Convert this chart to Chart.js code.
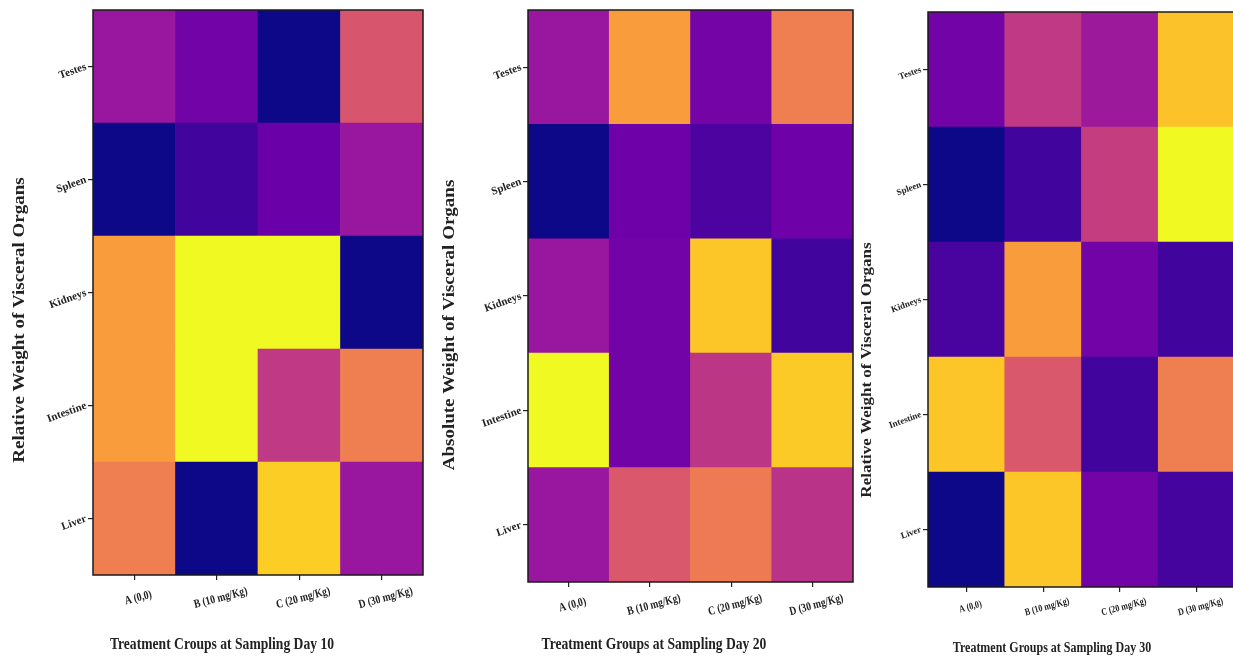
<!DOCTYPE html>
<html lang="en">
<head>
<meta charset="UTF-8">
<title>Weight of visceral organs - heatmaps</title>
<style>
  body { margin: 0; background: #fff; overflow: hidden; }
  #wrap { position: relative; width: 1233px; height: 663px; overflow: hidden; }
  #wrap canvas { position: absolute; top: 0; }
</style>
<script src="https://cdn.jsdelivr.net/npm/chart.js"></script>
</head>
<body>
<div id="wrap">
  <canvas id="day10" width="428" height="663" style="left:0px"></canvas>
  <canvas id="day20" width="425" height="663" style="left:430px"></canvas>
  <canvas id="day30" width="385" height="663" style="left:855px"></canvas>
</div>
<script>
const groups = ['A (0,0)', 'B (10 mg/Kg)', 'C (20 mg/Kg)', 'D (30 mg/Kg)'];
const organs = ['Liver', 'Intestine', 'Kidneys', 'Spleen', 'Testes']; // bottom to top

// colour level (0..1 on the plasma scale), one row per organ, one column per group
const day10 = [
  [0.68, 0.00, 0.90, 0.33],
  [0.77, 1.00, 0.45, 0.68],
  [0.77, 1.00, 1.00, 0.00],
  [0.00, 0.10, 0.20, 0.33],
  [0.33, 0.22, 0.00, 0.55]
];
const day20 = [
  [0.33, 0.56, 0.67, 0.43],
  [1.00, 0.22, 0.44, 0.89],
  [0.33, 0.22, 0.88, 0.10],
  [0.00, 0.21, 0.13, 0.21],
  [0.33, 0.77, 0.23, 0.68]
];
const day30 = [
  [0.00, 0.88, 0.22, 0.11],
  [0.88, 0.56, 0.10, 0.68],
  [0.12, 0.77, 0.22, 0.10],
  [0.00, 0.10, 0.47, 1.00],
  [0.22, 0.45, 0.34, 0.87]
];

// matplotlib "plasma" stops
const plasmaStops = ['#0d0887', '#41049d', '#6a00a8', '#8f0da4', '#b12a90', '#cc4778',
                     '#e16462', '#f2844b', '#fca636', '#fcce25', '#f0f921'];

function plasma(t) {
  t = Math.max(0, Math.min(1, t));
  const pos = t * (plasmaStops.length - 1);
  const i = Math.min(Math.floor(pos), plasmaStops.length - 2);
  const f = pos - i;
  const a = plasmaStops[i], b = plasmaStops[i + 1];
  const c = [1, 3, 5].map(k => {
    const va = parseInt(a.substr(k, 2), 16), vb = parseInt(b.substr(k, 2), 16);
    return Math.round(va + (vb - va) * f);
  });
  return `rgb(${c[0]},${c[1]},${c[2]})`;
}

const panels = [
  { id: 'day10', left: 0, width: 428, plot: { left: 93, right: 423, top: 10, bottom: 575 },
    values: day10, tickSize: 11, xTickSize: 12, xTickDy: 23,
    yTitle: 'Relative Weight of Visceral Organs', yTitleAt: [20, 320], yTitleSize: 19,
    xTitle: 'Treatment Croups at Sampling Day 10', xTitleAt: [222, 645], xTitleSize: 17 },
  { id: 'day20', left: 430, width: 425, plot: { left: 528, right: 853, top: 10, bottom: 582 },
    values: day20, tickSize: 11, xTickSize: 12, xTickDy: 23,
    yTitle: 'Absolute Weight of Visceral Organs', yTitleAt: [20, 325], yTitleSize: 19,
    xTitle: 'Treatment Groups at Sampling Day 20', xTitleAt: [224, 645], xTitleSize: 17 },
  { id: 'day30', left: 855, width: 385, plot: { left: 928, right: 1235, top: 12, bottom: 587 },
    values: day30, tickSize: 9, xTickSize: 10, xTickDy: 20,
    yTitle: 'Relative Weight of Visceral Organs', yTitleAt: [12, 370], yTitleSize: 17,
    xTitle: 'Treatment Groups at Sampling Day 30', xTitleAt: [197, 648], xTitleSize: 15 }
];

const serif = "'Liberation Serif', 'DejaVu Serif', serif";

function frameAndText(p) {
  return {
    id: 'frameAndText',
    afterDatasetsDraw(chart) {
      const { ctx, chartArea: a } = chart;
      ctx.save();
      ctx.strokeStyle = '#1a1a1a';
      ctx.lineWidth = 1.5;
      ctx.strokeRect(a.left, a.top, a.right - a.left, a.bottom - a.top);
      ctx.restore();
    },
    afterDraw(chart) {
      const { ctx, chartArea: a } = chart;
      const xs = chart.scales.x;
      ctx.save();
      ctx.fillStyle = '#222';
      ctx.textAlign = 'center';
      ctx.textBaseline = 'middle';

      // rotated group labels under the ticks
      ctx.font = `bold ${p.xTickSize}px ${serif}`;
      groups.forEach((g, i) => {
        ctx.save();
        ctx.translate(xs.getPixelForValue(i) + 4, a.bottom + p.xTickDy);
        ctx.rotate(-15 * Math.PI / 180);
        ctx.scale(0.8, 1);
        ctx.fillText(g, 0, 0);
        ctx.restore();
      });

      // axis titles
      ctx.font = `bold ${p.xTitleSize}px ${serif}`;
      ctx.save();
      ctx.translate(p.xTitleAt[0], p.xTitleAt[1]);
      ctx.scale(0.8, 1);
      ctx.fillText(p.xTitle, 0, 0);
      ctx.restore();

      ctx.font = `bold ${p.yTitleSize}px ${serif}`;
      ctx.save();
      ctx.translate(p.yTitleAt[0], p.yTitleAt[1]);
      ctx.rotate(-Math.PI / 2);
      ctx.scale(1, 0.85);
      ctx.fillText(p.yTitle, 0, 0);
      ctx.restore();

      ctx.restore();
    }
  };
}

panels.forEach(p => {
  const tickGrid = { display: true, drawOnChartArea: false, drawTicks: true, tickLength: 5,
                     color: '#222', lineWidth: 1.2, offset: false };
  new Chart(document.getElementById(p.id), {
    type: 'bar',
    data: {
      labels: groups,
      datasets: organs.map((organ, r) => ({
        label: organ,
        data: groups.map(() => 1),
        backgroundColor: p.values[r].map(plasma),
        borderWidth: 0,
        barPercentage: 1,
        categoryPercentage: 1
      }))
    },
    options: {
      responsive: false,
      animation: false,
      layout: { padding: { top: p.plot.top, left: 0, bottom: 0,
                           right: p.left + p.width - p.plot.right } },
      plugins: { legend: { display: false }, tooltip: { enabled: false } },
      scales: {
        x: {
          stacked: true,
          grid: tickGrid,
          border: { display: false },
          ticks: { display: false },
          afterFit(s) { s.height = 663 - p.plot.bottom; }
        },
        y: {
          type: 'linear',
          stacked: true,
          min: 0,
          max: 5,
          grid: tickGrid,
          border: { display: false },
          afterBuildTicks(s) { s.ticks = organs.map((o, i) => ({ value: i + 0.5 })); },
          ticks: {
            callback: v => organs[Math.floor(v)],
            minRotation: 20,
            padding: 2,
            color: '#222',
            font: { family: serif, weight: 'bold', size: p.tickSize }
          },
          afterFit(s) { s.width = p.plot.left - p.left; }
        }
      }
    },
    plugins: [frameAndText(p)]
  });
});
</script>
</body>
</html>
